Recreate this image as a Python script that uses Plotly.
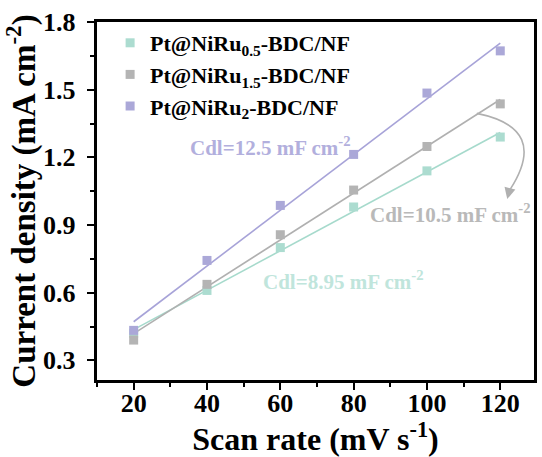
import numpy as np
import plotly.graph_objects as go

scan_rate = [20, 40, 60, 80, 100, 120]
j_ru05 = [0.42, 0.61, 0.80, 0.98, 1.14, 1.29]
j_ru15 = [0.39, 0.637, 0.857, 1.055, 1.248, 1.437]
j_ru2 = [0.433, 0.743, 0.987, 1.213, 1.485, 1.672]

y_ticks = [0.3, 0.6, 0.9, 1.2, 1.5, 1.8]
y_ticklabels = ["0.3", "0.6", "0.9", "1.2", "1.5", "1.8"]
x_ticks = [20, 40, 60, 80, 100, 120]

names = ["Pt@NiRu<sub>0.5</sub>-BDC/NF", "Pt@NiRu<sub>1.5</sub>-BDC/NF", "Pt@NiRu<sub>2</sub>-BDC/NF"]
marker_colors = ["#acdcd0", "#b4b4b4", "#aba8d8"]
line_colors = ["#a6dacc", "#b0b0b0", "#a7a3d8"]
label_colors = ["#c0e5dc", "#b9b9b9", "#b2afdd"]
cdl_labels = ["Cdl=8.95 mF cm<sup>-2</sup>", "Cdl=10.5 mF cm<sup>-2</sup>", "Cdl=12.5 mF cm<sup>-2</sup>"]

FONT = "Liberation Serif"
series = [j_ru05, j_ru15, j_ru2]

fig = go.Figure()
xs = np.array(scan_rate, dtype=float)
for ys, lc in zip(series, line_colors):
    k, b = np.polyfit(xs, np.array(ys), 1)
    xf = np.array([xs.min(), xs.max()])
    fig.add_trace(go.Scatter(x=xf, y=k * xf + b, mode="lines",
                             line=dict(color=lc, width=1.6), showlegend=False,
                             hoverinfo="skip"))
for ys, nm, mc in zip(series, names, marker_colors):
    fig.add_trace(go.Scatter(x=scan_rate, y=ys, mode="markers", name=nm,
                             marker=dict(symbol="square", size=9, color=mc)))

# Cdl labels
fig.add_annotation(x=34.7, y=1.247, xref="x", yref="y", text=cdl_labels[2], showarrow=False,
                   xanchor="left", yanchor="middle",
                   font=dict(family=FONT, size=21, color=label_colors[2], weight="bold"))
fig.add_annotation(x=84.0, y=0.952, xref="x", yref="y", text=cdl_labels[1], showarrow=False,
                   xanchor="left", yanchor="middle",
                   font=dict(family=FONT, size=21, color=label_colors[1], weight="bold"))
fig.add_annotation(x=54.7, y=0.652, xref="x", yref="y", text=cdl_labels[0], showarrow=False,
                   xanchor="left", yanchor="middle",
                   font=dict(family=FONT, size=21, color=label_colors[0], weight="bold"))

# curved arrow
fig.add_shape(type="path", xref="x", yref="y",
              path="M 113.6,1.395 Q 133.5,1.33 122.7,1.058",
              line=dict(color="#b0b0b0", width=1.6))
fig.add_annotation(x=121.9, y=1.015, ax=3, ay=-12, xref="x", yref="y",
                   text="", showarrow=True, arrowhead=2, arrowsize=1.4, arrowwidth=1.6,
                   arrowcolor="#b0b0b0")

axis_common = dict(
    showline=True, linecolor="black", linewidth=2.5, mirror=True,
    ticks="outside", ticklen=7, tickwidth=2, tickcolor="black",
    showgrid=False, zeroline=False,
    tickfont=dict(family=FONT, size=26, color="black", weight="bold"),
)
fig.update_xaxes(range=[10, 129.2], tickvals=x_ticks,
                 ticklabelstandoff=-9,
                 minor=dict(tickvals=[10, 30, 50, 70, 90, 110], ticks="outside", ticklen=4, tickwidth=2, tickcolor="black"),
                 title=dict(text="Scan rate (mV s<sup>-1</sup>)", standoff=12,
                            font=dict(family=FONT, size=32, color="black", weight="bold")),
                 **axis_common)
fig.update_yaxes(range=[0.213, 1.8], tickvals=y_ticks,
                 ticktext=[t + "\u00a0" for t in y_ticklabels],
                 minor=dict(tickvals=[0.45, 0.75, 1.05, 1.35, 1.65], ticks="outside", ticklen=4, tickwidth=2, tickcolor="black"),
                 title=dict(text="Current density (mA cm<sup>-2</sup>)", standoff=0,
                            font=dict(family=FONT, size=33, color="black", weight="bold")),
                 **axis_common)

fig.update_layout(
    width=542, height=457,
    margin=dict(l=97, r=5, t=22, b=74),
    plot_bgcolor="white", paper_bgcolor="white",
    showlegend=True,
    legend=dict(x=0.03, y=1.0, xanchor="left", yanchor="top",
                bgcolor="rgba(0,0,0,0)", borderwidth=0,
                font=dict(family=FONT, size=22, color="black", weight="bold"),
                itemwidth=30, tracegroupgap=0),
)

fig.write_html("out.html")
